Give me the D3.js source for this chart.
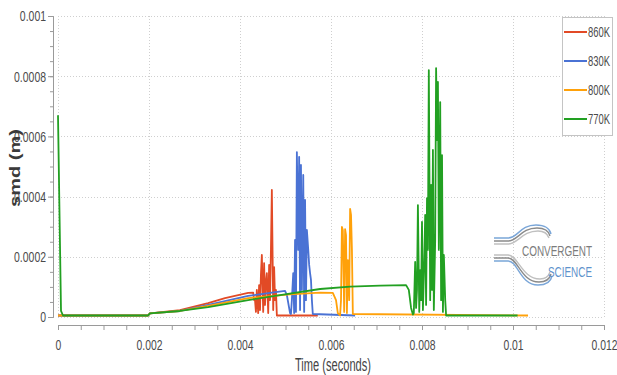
<!DOCTYPE html>
<html>
<head>
<meta charset="utf-8">
<script src="https://cdn.jsdelivr.net/npm/d3@7"></script>
<style>
  body { margin: 0; background: #fff; }
  svg { display: block; }
  .axis text { font-family: "Liberation Sans Narrow", "Liberation Sans", sans-serif; font-size: 15px; fill: #4a4a4a; }
  .axis path, .axis line { stroke: #9a9a9a; }
  .grid line { stroke: #cfcfcf; stroke-dasharray: 1,2; }
</style>
</head>
<body>
<svg id="chart" width="617" height="375"></svg>
<script>
// tick values / labels
const xMajor = [0, 0.002, 0.004, 0.006, 0.008, 0.01, 0.012];
const xLabels = ['0', '0.002', '0.004', '0.006', '0.008', '0.01', '0.012'];
const yMajor = [0, 0.0002, 0.0004, 0.0006, 0.0008, 0.001];
const yLabels = ['0', '0.0002', '0.0004', '0.0006', '0.0008', '0.001'];

const seriesNames = ['860K', '830K', '800K', '770K'];
const seriesColors = ['#e24a26', '#4a72d4', '#ffa10a', '#22a022'];

// 860K
const t860 = [0, 0.00198, 0.00202, 0.00268, 0.0033, 0.00367, 0.00418, 0.00429, 0.00431,
  0.00433, 0.00435, 0.00437, 0.00440, 0.00442, 0.00444, 0.00446, 0.00448, 0.00451, 0.00453, 0.00455, 0.00457,
  0.00459, 0.00462, 0.00464, 0.00466, 0.00468, 0.00470, 0.00473, 0.00475, 0.00477, 0.00479, 0.00481, 0.00571];
const v860 = [0.000005, 0.000005, 0.000012, 0.000023, 0.000046, 0.000063, 0.00008, 0.000081, 0.000056,
  0.000056, 0.000017, 0.00009, 0.000013, 0.000106, 0.000023, 0.00014, 0.000206, 0.000017, 0.000179, 0.00004, 0.000116,
  0.000146, 0.000013, 0.000173, 0.000056, 0.000223, 0.000422, 0.000023, 0.000166, 0.000056, 0.00009, 0.000005, 0.000005];

// 830K
const t830 = [0, 0.00198, 0.00202, 0.00268, 0.0033, 0.00418, 0.00466, 0.00499, 0.00503, 0.0051,
  0.00512, 0.00514, 0.00517, 0.00519, 0.00521, 0.00523, 0.00525, 0.00528, 0.00530, 0.00532, 0.00534, 0.00536,
  0.00539, 0.00541, 0.00543, 0.00545, 0.00547, 0.00550, 0.00552, 0.00554, 0.00556, 0.00558, 0.00560, 0.00653];
const v830 = [0.000005, 0.000005, 0.000012, 0.00002, 0.00004, 0.00007, 0.00008, 0.000087, 0.000073, 0.000013,
  0.00001, 0.000056, 0.000146, 0.000013, 0.000256, 0.000017, 0.000548, 0.000223, 0.000532, 0.000023, 0.000505, 0.00009,
  0.000472, 0.000017, 0.000389, 0.000056, 0.000289, 0.000223, 0.000173, 0.000146, 0.000123, 0.000056, 0.00001, 0.000005];

// 800K
const t800 = [0, 0.00198, 0.00202, 0.00268, 0.0033, 0.00418, 0.0051, 0.00576, 0.00604, 0.00611, 0.00615, 0.0062,
  0.00622, 0.00624, 0.00626, 0.00629, 0.00631, 0.00633, 0.00635, 0.00637, 0.00640, 0.00642, 0.00644, 0.00646, 0.00648,
  0.01033];
const v800 = [0.000005, 0.000005, 0.000012, 0.00002, 0.000037, 0.000063, 0.000075, 0.000081, 0.00008, 0.000056, 0.000013, 0.000005,
  0.000056, 0.000299, 0.000289, 0.000017, 0.000292, 0.000272, 0.000013, 0.000189, 0.000056, 0.000359, 0.000339, 0.000223, 0.00001,
  0.000005];

// 770K
const t770 = [0, 0.000066, 0.00011, 0.00198, 0.00202, 0.00268, 0.0033, 0.00418, 0.00488, 0.00576, 0.00642, 0.00708,
  0.00765, 0.00771, 0.00776, 0.0078,
  0.00782, 0.00785, 0.00787, 0.00789, 0.00791, 0.00794, 0.00796, 0.00798, 0.00800, 0.00802, 0.00805,
  0.00807, 0.00809, 0.00811, 0.00813, 0.00815, 0.00818, 0.00820, 0.00822, 0.00824, 0.00826, 0.00829,
  0.00831, 0.00833, 0.00835, 0.00837, 0.00840, 0.00842, 0.00844, 0.00846, 0.00848, 0.00851, 0.00853,
  0.0101];
const v770 = [0.00067, 0.00002, 0.000005, 0.000005, 0.000012, 0.00002, 0.000033, 0.000056, 0.000073, 0.000093, 0.000101, 0.000104,
  0.000106, 0.00009, 0.00003, 0.000008,
  0.000013, 0.000183, 0.00003, 0.00009, 0.000372, 0.000017, 0.000156, 0.000056, 0.000316, 0.000023, 0.000189,
  0.000339, 0.00004, 0.000395, 0.000223, 0.00082, 0.000056, 0.000439, 0.00009, 0.000555, 0.000023, 0.000256,
  0.000827, 0.000588, 0.000781, 0.000223, 0.000714, 0.000056, 0.000538, 0.000017, 0.000206, 0.000056, 0.000005,
  0.000005];

const seriesT = [t860, t830, t800, t770];
const seriesV = [v860, v830, v800, v770];

const svg = d3.select('#chart');

let xScale = d3.scaleLinear().domain([0, 0.012]).range([58, 604]);
let yScale = d3.scaleLinear().domain([0, 0.001]).range([317, 16]);

// minor tick positions (4 per major interval)
let xMinor = d3.range(0, 0.01201, 0.0005);
let yMinor = d3.range(0, 0.001001, 0.00005);

// squeeze text horizontally so that the reference string gets the wanted width
function squeeze(sel, refText, wantW) {
  let w = 0;
  sel.each(function () {
    if (this.textContent === refText) w = this.getComputedTextLength();
  });
  let k = w > 0 ? wantW / w : 0.8;
  sel.each(function () {
    let t = d3.select(this);
    let prev = t.attr('transform') || '';
    t.attr('transform', prev + ` scale(${k},1)`);
    let x = +t.attr('x') || 0;
    if (x) t.attr('x', x / k);
  });
}

// grid
let grid = svg.append('g').attr('class', 'grid');
grid.selectAll('line.v')
  .data(xMajor)
  .enter()
  .append('line')
  .attr('x1', (d) => Math.round(xScale(d)) + 0.5)
  .attr('x2', (d) => Math.round(xScale(d)) + 0.5)
  .attr('y1', yScale(0.001))
  .attr('y2', yScale(0));
grid.selectAll('line.h')
  .data(yMajor)
  .enter()
  .append('line')
  .attr('x1', xScale(0))
  .attr('x2', xScale(0.012))
  .attr('y1', (d) => Math.round(yScale(d)) + 0.5)
  .attr('y2', (d) => Math.round(yScale(d)) + 0.5);

// AXES
let xAxisMinor = d3.axisBottom(xScale).tickValues(xMinor).tickSize(5).tickFormat('');
let xAxis = d3.axisBottom(xScale).tickValues(xMajor).tickSize(5).tickPadding(9)
  .tickFormat((d, i) => xLabels[i]);

svg.append('g').attr('class', 'axis').attr('transform', 'translate(0, 325)').call(xAxisMinor);
let xAxisGroup = svg.append('g').attr('class', 'axis').attr('transform', 'translate(0, 325)').call(xAxis);
squeeze(xAxisGroup.selectAll('text'), '0.002', 26);

let yAxisMinor = d3.axisLeft(yScale).tickValues(yMinor).tickSize(3).tickFormat('');
let yAxis = d3.axisLeft(yScale).tickValues(yMajor).tickSize(5).tickPadding(2)
  .tickFormat((d, i) => yLabels[i]);

svg.append('g').attr('class', 'axis').attr('transform', 'translate(53, 0)').call(yAxisMinor);
let yAxisGroup = svg.append('g').attr('class', 'axis').attr('transform', 'translate(53, 0)').call(yAxis);
squeeze(yAxisGroup.selectAll('text'), '0.0008', 32);
svg.selectAll('.axis .domain').attr('stroke', '#9a9a9a');

// axis titles
svg.append('text')
  .attr('x', 333)
  .attr('y', 371)
  .attr('text-anchor', 'middle')
  .attr('textLength', 76)
  .attr('lengthAdjust', 'spacingAndGlyphs')
  .style('font-family', '"Liberation Sans Narrow", "Liberation Sans", sans-serif')
  .style('font-size', '18px')
  .style('fill', '#444')
  .text('Time (seconds)');

svg.append('text')
  .attr('transform', 'translate(20, 168) rotate(-90)')
  .attr('text-anchor', 'middle')
  .attr('textLength', 78)
  .attr('lengthAdjust', 'spacingAndGlyphs')
  .style('font-family', '"Liberation Sans", sans-serif')
  .style('font-weight', 'bold')
  .style('font-size', '15px')
  .style('fill', '#3a3a3a')
  .text('smd (m)');

// logo
let logo = svg.append('g').attr('fill', 'none').attr('stroke-width', 1.4);
let logoTop = ['#7aa6d8', '#8a8a8a', '#c0c0c0'];
logoTop.forEach((c, i) => {
  logo.append('path')
    .attr('stroke', c)
    .attr('d', `M494,${238 + i * 3} L508,${238 + i * 3} C518,${238 + i * 3} ${520 + i},${225 + i * 3} ${536 + i},${225 + i * 3} C545,${225 + i * 3} ${550 - i},${229 + i * 3} ${551 - i},${234 + i * 2}`);
  logo.append('path')
    .attr('stroke', c)
    .attr('d', `M494,${261 - i * 3} L508,${261 - i * 3} C518,${261 - i * 3} ${520 + i},${285 - i * 3} ${538 + i},${285 - i * 3} C547,${285 - i * 3} ${551 - i},${281 - i * 3} ${552 - i},${276 - i * 2}`);
});
let logoText = svg.append('g')
  .style('font-family', '"Liberation Sans Narrow", "Liberation Sans", sans-serif')
  .style('font-size', '14px');
logoText.append('text')
  .attr('x', 522)
  .attr('y', 256)
  .attr('textLength', 70)
  .attr('lengthAdjust', 'spacingAndGlyphs')
  .style('fill', '#7c7c7c')
  .text('CONVERGENT');
logoText.append('text')
  .attr('x', 548)
  .attr('y', 277)
  .attr('textLength', 44)
  .attr('lengthAdjust', 'spacingAndGlyphs')
  .style('fill', '#5f93cc')
  .text('SCIENCE');

// lines
let line = d3.line()
  .x((d) => xScale(d[0]))
  .y((d) => yScale(d[1]));

let lines = svg.append('g');
seriesNames.forEach((name, i) => {
  lines.append('path')
    .datum(d3.zip(seriesT[i], seriesV[i]))
    .attr('fill', 'none')
    .attr('stroke', seriesColors[i])
    .attr('stroke-width', 1.8)
    .attr('stroke-linejoin', 'round')
    .attr('d', line);
});

// legend
let legend = svg.append('g');
legend.append('rect')
  .attr('x', 562.5)
  .attr('y', 17.5)
  .attr('width', 50)
  .attr('height', 118)
  .attr('fill', '#fff')
  .attr('stroke', '#c4c4c4');
let legendY = d3.scalePoint().domain(seriesNames).range([32, 119]);
seriesNames.forEach((name, i) => {
  legend.append('line')
    .attr('x1', 564)
    .attr('x2', 587)
    .attr('y1', legendY(name))
    .attr('y2', legendY(name))
    .attr('stroke', seriesColors[i])
    .attr('stroke-width', 2);
});
let legendText = legend.selectAll('text.lab')
  .data(seriesNames)
  .enter()
  .append('text')
  .attr('transform', (d) => `translate(588, ${legendY(d) + 5})`)
  .style('font-family', '"Liberation Sans Narrow", "Liberation Sans", sans-serif')
  .style('font-size', '15px')
  .style('fill', '#4a4a4a')
  .text((d) => d);
squeeze(legendText, '860K', 22);
</script>
</body>
</html>
